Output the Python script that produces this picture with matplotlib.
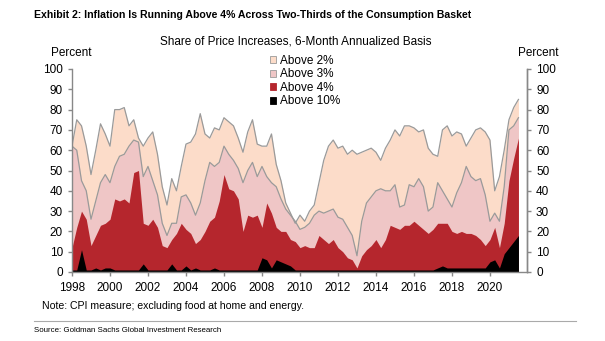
import numpy as np
import matplotlib
matplotlib.use("Agg")
import matplotlib.pyplot as plt
from matplotlib.patches import Patch

plt.rcParams['font.family'] = ['Liberation Sans', 'DejaVu Sans']

# Quarterly observations, 1998Q1 .. 2021Q3
start_year = 1998.0
step = 0.25

above_2 = [62, 75, 72, 62, 48, 60, 73, 68, 62, 80, 80, 81, 72, 75, 66, 62, 66, 69, 58, 42,
           33, 46, 40, 52, 63, 64, 68, 78, 68, 66, 71, 70, 76, 74, 72, 66, 59, 69, 75, 63,
           62, 62, 68, 53, 45, 34, 29, 24, 28, 25, 30, 33, 44, 55, 62, 65, 61, 62, 58, 60,
           58, 59, 60, 61, 59, 55, 61, 65, 70, 67, 72, 72, 71, 69, 70, 61, 58, 57, 70, 72,
           67, 69, 68, 62, 66, 70, 71, 69, 65, 40, 47, 60, 75, 81, 85]
above_3 = [62, 60, 45, 40, 26, 35, 44, 48, 44, 52, 57, 58, 62, 65, 64, 47, 52, 45, 38, 24,
           18, 24, 24, 37, 38, 34, 28, 34, 45, 54, 52, 54, 62, 58, 55, 51, 44, 50, 54, 47,
           52, 47, 44, 42, 36, 31, 28, 25, 21, 22, 24, 28, 30, 29, 30, 31, 27, 26, 22, 18,
           8, 25, 34, 37, 40, 41, 40, 40, 43, 32, 33, 43, 42, 46, 42, 30, 32, 44, 40, 36,
           32, 39, 44, 52, 47, 45, 46, 38, 25, 29, 25, 42, 70, 72, 76]
above_4 = [12, 22, 30, 26, 13, 18, 23, 24, 26, 36, 35, 36, 34, 49, 50, 24, 23, 26, 22, 13,
           12, 16, 19, 24, 21, 19, 14, 16, 20, 25, 27, 35, 48, 41, 40, 36, 20, 28, 27, 28,
           22, 34, 29, 22, 20, 20, 16, 15, 12, 13, 12, 12, 18, 16, 14, 16, 12, 10, 7, 6,
           2, 8, 11, 13, 16, 12, 16, 23, 22, 21, 23, 23, 25, 23, 21, 19, 21, 24, 24, 24,
           20, 19, 20, 19, 19, 18, 16, 13, 16, 22, 12, 24, 45, 56, 66]
above_10 = [1, 1, 11, 1, 1, 2, 1, 2, 2, 1, 1, 1, 1, 1, 1, 4, 1, 1, 1, 1,
            1, 4, 1, 1, 3, 1, 2, 1, 1, 1, 2, 1, 1, 1, 1, 1, 1, 1, 1, 1,
            7, 6, 2, 6, 5, 4, 3, 1, 1, 1, 1, 1, 1, 1, 1, 1, 1, 1, 1, 1,
            1, 1, 1, 1, 1, 1, 1, 1, 1, 1, 1, 1, 1, 1, 1, 1, 1, 2, 3, 2,
            2, 2, 2, 2, 2, 2, 2, 2, 5, 6, 2, 9, 12, 15, 18]

series_labels = ["Above 2%", "Above 3%", "Above 4%", "Above 10%"]
year_ticks = list(range(1998, 2021, 2))
y_ticks = list(range(0, 101, 10))

t = start_year + step * np.arange(len(above_2))

c_peach = "#FCDCC9"
c_pink = "#EFC6C6"
c_red = "#B5262D"
c_black = "#000000"
c_line = "#9A9A9A"
c_axis = "#888888"
fs = 8.5

fig = plt.figure(figsize=(6.05, 3.41), dpi=100)
ax = fig.add_axes([72/605, 1-272/341, 455/605, 203/341])

ax.fill_between(t, 0, above_2, color=c_peach, lw=0)
ax.fill_between(t, 0, above_3, color=c_pink, lw=0)
ax.plot(t, above_2, color=c_line, lw=0.9)
ax.plot(t, above_3, color=c_line, lw=0.9)
ax.fill_between(t, 0, above_4, color=c_red, lw=0)
ax.fill_between(t, 0, above_10, color=c_black, lw=0)

ax.set_xlim(1998, 2021.95)
ax.set_ylim(0, 100)
ax.set_xticks(year_ticks)
ax.set_xticklabels([str(y) for y in year_ticks])
ax.set_yticks(y_ticks)

ax.spines["top"].set_visible(False)
for side in ["left", "right", "bottom"]:
    ax.spines[side].set_color(c_axis)
    ax.spines[side].set_linewidth(1.0)
ax.tick_params(axis='both', labelsize=fs, color=c_axis, length=3, width=1.0)
ax.tick_params(axis='x', pad=4)

ax2 = ax.twinx()
ax2.set_ylim(0, 100)
ax2.set_yticks(y_ticks)
for side in ["top", "left", "bottom"]:
    ax2.spines[side].set_visible(False)
ax2.spines["right"].set_color(c_axis)
ax2.spines["right"].set_linewidth(1.0)
ax2.tick_params(axis='y', labelsize=fs, color=c_axis, length=3, width=1.0)

handles = [Patch(facecolor=c_peach, edgecolor=c_line, lw=0.6),
           Patch(facecolor=c_pink, edgecolor=c_line, lw=0.6),
           Patch(facecolor=c_red, edgecolor=c_red, lw=0.6),
           Patch(facecolor=c_black, edgecolor=c_black, lw=0.6)]
fig.legend(handles, series_labels, loc='upper left', bbox_to_anchor=(270/605, 1-55/341),
           bbox_transform=fig.transFigure, frameon=False, fontsize=fs,
           handlelength=0.55, handleheight=0.55, handletextpad=0.3,
           labelspacing=0.12, borderpad=0, borderaxespad=0)

fig.text(34/605, 1-15/341, "Exhibit 2: Inflation Is Running Above 4% Across Two-Thirds of the Consumption Basket",
         fontweight='bold', fontsize=7.6, ha='left', va='center')
fig.text(296/605, 1-42/341, "Share of Price Increases, 6-Month Annualized Basis",
         fontsize=fs, ha='center', va='center')
fig.text(71/605, 1-53/341, "Percent", fontsize=fs, ha='center', va='center')
fig.text(538/605, 1-53/341, "Percent", fontsize=fs, ha='center', va='center')
fig.text(42/605, 1-306/341, "Note: CPI measure; excluding food at home and energy.",
         fontsize=7.6, ha='left', va='center')
fig.add_artist(plt.Line2D([34/605, 576/605], [1-321/341, 1-321/341], color="#AAAAAA", lw=0.8))
fig.text(34/605, 1-331/341, "Source: Goldman Sachs Global Investment Research",
         fontsize=5.7, ha='left', va='center')

fig.savefig("out.png", dpi=100)
